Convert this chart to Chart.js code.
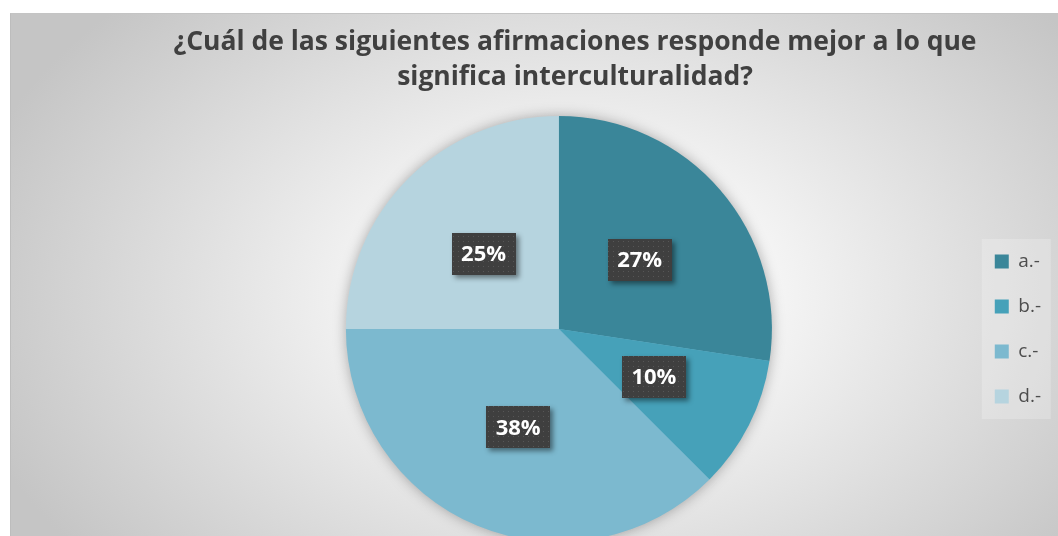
<!DOCTYPE html>
<html lang="es">
<head>
    <meta charset="UTF-8">
    <title>Interculturalidad</title>
    <script src="https://cdn.jsdelivr.net/npm/chart.js"></script>
    <style>
        html, body { margin: 0; padding: 0; background: #fff; overflow: hidden; }
        #frame {
            position: absolute; left: 10px; top: 13px;
            width: 1048px; height: 540px; box-sizing: border-box;
            border-top: 1px solid #c4c4c4; border-left: 1px solid #bdbdbd;
            background: radial-gradient(ellipse 60% 78% at 54% 52%, #ffffff 0%, #fbfbfb 22%, #c5c5c5 100%);
        }
        #wrap { position: relative; width: 1047px; height: 539px; }
    </style>
</head>
<body>
<div id="frame">
    <div id="wrap"><canvas id="pieChart"></canvas></div>
</div>
<script>
    // datos del gráfico
    const categorias = ['a.-', 'b.-', 'c.-', 'd.-'];
    const porcentajes = [27.4, 10.1, 37.5, 25.0];
    const colores = ['#3a8699', '#46a1b9', '#7cb9cf', '#b6d4df'];
    const titulo = ['¿Cuál de las siguientes afirmaciones responde mejor a lo que', 'significa interculturalidad?'];

    // trama punteada de las etiquetas
    const trama = document.createElement('canvas');
    trama.width = 5; trama.height = 5;
    const tctx = trama.getContext('2d');
    tctx.fillStyle = '#3f3f3f';
    tctx.fillRect(0, 0, 5, 5);
    tctx.fillStyle = '#575757';
    tctx.fillRect(2, 2, 1, 1);

    // título en dos líneas centrado
    const tituloPlugin = {
        id: 'tituloPlugin',
        afterDraw(chart) {
            const ctx = chart.ctx;
            ctx.save();
            ctx.fillStyle = '#404040';
            ctx.font = 'bold 26.5px "Open Sans"';
            ctx.textAlign = 'center';
            ctx.textBaseline = 'alphabetic';
            ctx.fillText(titulo[0], 564, 36);
            ctx.fillText(titulo[1], 564, 71);
            ctx.restore();
        }
    };

    // fondo de la leyenda y sombra del pastel
    const fondoPlugin = {
        id: 'fondoPlugin',
        beforeDatasetsDraw(chart) {
            const ctx = chart.ctx;
            const arc = chart.getDatasetMeta(0).data[0];
            if (!arc) return;
            ctx.save();
            ctx.shadowColor = 'rgba(0,0,0,0.35)';
            ctx.shadowBlur = 14;
            ctx.fillStyle = colores[2];
            ctx.beginPath();
            ctx.arc(arc.x, arc.y, arc.outerRadius - 1, 0, Math.PI * 2);
            ctx.fill();
            ctx.restore();
        },
        beforeDraw(chart) {
            const lg = chart.legend;
            if (!lg || !lg.legendHitBoxes.length) return;
            const hb = lg.legendHitBoxes[0];
            const ctx = chart.ctx;
            ctx.save();
            ctx.fillStyle = 'rgba(255,255,255,0.22)';
            ctx.fillRect(hb.left - 13, hb.top - 13, 69, 180);
            ctx.restore();
        }
    };

    // etiquetas de porcentaje
    const etiquetasPlugin = {
        id: 'etiquetasPlugin',
        afterDatasetsDraw(chart) {
            const ctx = chart.ctx;
            const pat = ctx.createPattern(trama, 'repeat');
            chart.getDatasetMeta(0).data.forEach((arc, i) => {
                const p = arc.tooltipPosition();
                const w = 64, h = 42;
                const x = Math.round(p.x - w / 2), y = Math.round(p.y - h / 2);
                ctx.save();
                ctx.shadowColor = 'rgba(0,0,0,0.45)';
                ctx.shadowBlur = 5;
                ctx.shadowOffsetX = 3;
                ctx.shadowOffsetY = 3;
                ctx.fillStyle = '#3f3f3f';
                ctx.fillRect(x, y, w, h);
                ctx.restore();
                ctx.save();
                ctx.fillStyle = pat;
                ctx.fillRect(x, y, w, h);
                ctx.fillStyle = '#ffffff';
                ctx.font = 'bold 22px "Open Sans"';
                ctx.textAlign = 'center';
                ctx.textBaseline = 'middle';
                ctx.fillText(Math.round(porcentajes[i]) + '%', p.x, p.y + 1);
                ctx.restore();
            });
        }
    };

    new Chart(document.getElementById('pieChart'), {
        type: 'pie',
        data: {
            labels: categorias,
            datasets: [{
                data: porcentajes,
                backgroundColor: colores,
                borderWidth: 0
            }]
        },
        options: {
            responsive: true,
            maintainAspectRatio: false,
            animation: false,
            layout: { padding: { top: 102, bottom: 11, left: 138, right: 7 } },
            plugins: {
                title: { display: false },
                tooltip: { enabled: false },
                legend: {
                    position: 'right',
                    fullSize: false,
                    labels: {
                        boxWidth: 14,
                        boxHeight: 14,
                        padding: 26,
                        color: '#4d4d4d',
                        font: { family: '"Open Sans"', size: 19 }
                    }
                }
            }
        },
        plugins: [fondoPlugin, etiquetasPlugin, tituloPlugin]
    });
</script>
</body>
</html>
